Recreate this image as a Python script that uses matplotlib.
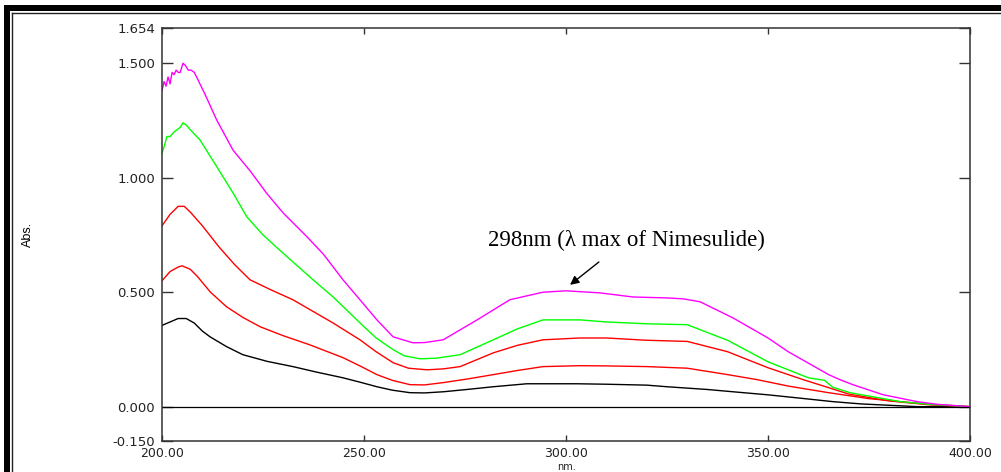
import numpy as np
import matplotlib.pyplot as plt
from matplotlib.patches import Rectangle
from matplotlib.lines import Line2D

# UV overlay spectra (nm, Abs.)
black_nm = [200, 202, 204, 206, 208, 210, 211.9, 216, 220, 226, 232.4, 238, 244.8, 249, 253.2,
            257, 261.4, 265, 269.6, 276, 282, 290.3, 302.7, 310, 320, 325, 335, 342, 349.8,
            358, 366, 373, 380, 387, 400]
black_abs = [0.355, 0.37, 0.385, 0.385, 0.365, 0.33, 0.305, 0.262, 0.227, 0.198, 0.175, 0.152,
             0.126, 0.107, 0.087, 0.072, 0.061, 0.060, 0.065, 0.076, 0.087, 0.10, 0.10, 0.098,
             0.094, 0.087, 0.075, 0.064, 0.052, 0.037, 0.022, 0.012, 0.006, 0.0, 0.0]

red1_nm = [200, 202, 204, 205, 207, 208.7, 212, 216, 220, 224.3, 230, 236.6, 244.8, 249, 253.2,
           257, 261.4, 265, 269.6, 276, 282, 288, 294.3, 303.5, 310, 320, 330, 340, 347.3, 355,
           365, 375, 382.7, 390, 400]
red1_abs = [0.55, 0.59, 0.61, 0.615, 0.60, 0.57, 0.50, 0.436, 0.39, 0.349, 0.31, 0.27, 0.214,
            0.178, 0.14, 0.115, 0.096, 0.095, 0.105, 0.122, 0.14, 0.158, 0.175, 0.179, 0.178,
            0.175, 0.168, 0.14, 0.118, 0.09, 0.061, 0.035, 0.022, 0.01, 0.0]

red2_nm = [200, 202, 204, 205.5, 207, 210, 214, 218, 221.8, 227, 232.4, 237, 242.3, 249, 253,
           257.2, 261, 265.6, 269.6, 273.8, 282, 288, 294.3, 303.5, 310, 320, 330, 340, 350,
           358.7, 365, 370, 380, 390, 400]
red2_abs = [0.79, 0.84, 0.875, 0.875, 0.85, 0.79, 0.70, 0.62, 0.554, 0.51, 0.467, 0.42, 0.366,
            0.292, 0.24, 0.192, 0.168, 0.161, 0.165, 0.175, 0.235, 0.268, 0.292, 0.30, 0.30,
            0.29, 0.285, 0.24, 0.17, 0.118, 0.083, 0.055, 0.025, 0.008, 0.0]

green_nm = [200, 200.6, 201.2, 202, 203, 204.5, 205.2, 206, 207.5, 209.4, 213.6, 217.6, 221,
            225, 230, 237.4, 242.3, 249, 253, 257.2, 260, 263.9, 268, 273.8, 282, 288, 294.3,
            303.5, 310, 320, 330, 340, 350, 360, 364, 366, 370.3, 382.7, 390, 400]
green_abs = [1.107, 1.14, 1.18, 1.18, 1.20, 1.22, 1.24, 1.23, 1.20, 1.165, 1.047, 0.933, 0.829,
             0.75, 0.67, 0.554, 0.48, 0.366, 0.30, 0.249, 0.222, 0.209, 0.212, 0.227, 0.292,
             0.34, 0.379, 0.379, 0.37, 0.362, 0.358, 0.29, 0.196, 0.126, 0.115, 0.085, 0.061,
             0.022, 0.01, 0.0]

magenta_nm = [200, 200.5, 201, 201.5, 202, 202.5, 203, 203.5, 204, 204.5, 205.2, 205.8, 206.5,
              207.2, 208, 208.7, 210.5, 213.6, 217.6, 221.8, 226, 230, 236, 240, 244.8, 249,
              253.2, 257.2, 262.1, 265, 269.6, 278, 286.1, 294.3, 300, 308.4, 316.6, 325, 329,
              333.2, 341.3, 350, 355, 360, 365, 367.8, 371, 378.5, 386.9, 392, 400]
magenta_abs = [1.38, 1.42, 1.40, 1.44, 1.41, 1.46, 1.45, 1.47, 1.46, 1.46, 1.50, 1.49, 1.47,
               1.47, 1.46, 1.435, 1.37, 1.25, 1.12, 1.03, 0.93, 0.846, 0.74, 0.665, 0.554,
               0.467, 0.379, 0.305, 0.279, 0.280, 0.292, 0.379, 0.467, 0.50, 0.506, 0.497,
               0.479, 0.475, 0.471, 0.458, 0.388, 0.30, 0.24, 0.19, 0.14, 0.118, 0.096, 0.052,
               0.022, 0.01, 0.0]

x_ticks = [200, 250, 300, 350, 400]
y_ticks = [-0.150, 0.0, 0.5, 1.0, 1.5, 1.654]

fig = plt.figure(figsize=(10.01, 4.72), dpi=100)
ax = fig.add_axes([162 / 1001, 1 - 441 / 472, 808 / 1001, 413 / 472])

ax.plot(black_nm, black_abs, color='black', lw=1)
ax.plot(red1_nm, red1_abs, color='#ff0000', lw=1)
ax.plot(red2_nm, red2_abs, color='#ff0000', lw=1)
ax.plot(green_nm, green_abs, color='#00ff00', lw=1)
ax.plot(magenta_nm, magenta_abs, color='#ff00ff', lw=1)
ax.axhline(0, color='black', lw=0.9)

ax.set_xlim(200, 400)
ax.set_ylim(-0.150, 1.654)
ax.set_xticks(x_ticks)
ax.set_xticklabels([f'{v:.2f}' for v in x_ticks])
ax.set_yticks(y_ticks)
ax.set_yticklabels([f'{v:.3f}' for v in y_ticks])

for s in ax.spines.values():
    s.set_color('#333333')
    s.set_linewidth(1.1)
ax.tick_params(axis='y', direction='in', length=8, width=1, left=True, right=True,
               labelsize=9.5, pad=5, colors='#333333', labelcolor='#222222')
ax.tick_params(axis='x', direction='in', length=4, width=1, top=True, bottom=True,
               labelsize=9, pad=4, colors='#333333', labelcolor='#222222')
for lab in ax.get_xticklabels() + ax.get_yticklabels():
    lab.set_fontfamily('DejaVu Sans')

# x label sits at the very bottom edge, as in the source picture
fig.text(566 / 1001, 0, 'nm.', fontsize=7, family='DejaVu Sans',
         ha='center', va='bottom', color='#222222')
fig.text(28 / 1001, 1 - 234 / 472, 'Abs.', rotation=90, fontsize=9,
         family='Liberation Sans', ha='center', va='center')

ax.annotate('298nm (\u03bb max of Nimesulide)', xy=(301, 0.532), xytext=(315, 0.728),
            fontsize=16.5, family='Liberation Serif', ha='center', va='center',
            arrowprops=dict(arrowstyle='-|>', color='black', lw=1, mutation_scale=13,
                            shrinkA=10, shrinkB=0))

# page frame around the picture (thick outer, thin inner line)
fig.patches.append(Rectangle((3.5 / 1001, 0), 6 / 1001, 1 - 5 / 472, transform=fig.transFigure,
                             color='black', lw=0))
fig.patches.append(Rectangle((3.5 / 1001, 1 - 11 / 472), 1, 6 / 472, transform=fig.transFigure,
                             color='black', lw=0))
fig.lines.append(Line2D([11.5 / 1001, 11.5 / 1001], [0, 1 - 12.5 / 472],
                        transform=fig.transFigure, color='#222222', lw=1))
fig.lines.append(Line2D([11.5 / 1001, 1], [1 - 12.5 / 472, 1 - 12.5 / 472],
                        transform=fig.transFigure, color='#222222', lw=1))

plt.savefig('out.png', dpi=100)
